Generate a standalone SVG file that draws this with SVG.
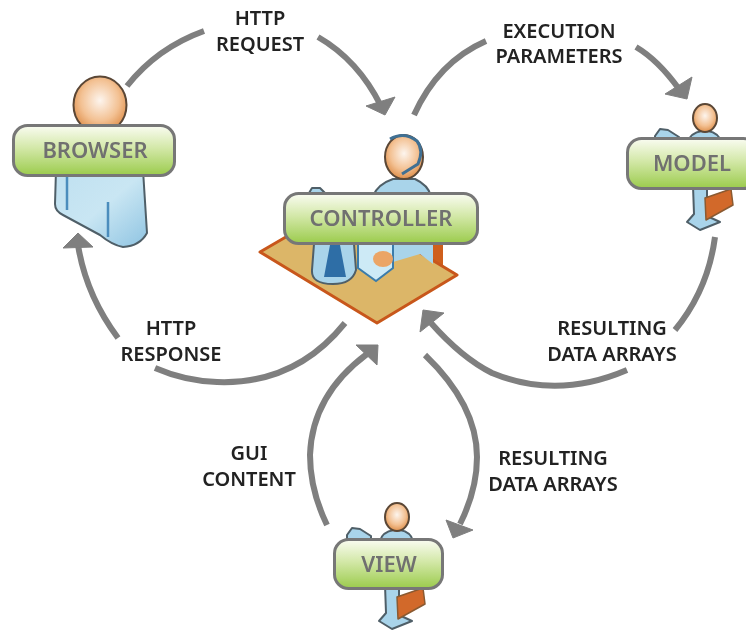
<svg xmlns="http://www.w3.org/2000/svg" width="746" height="630" viewBox="0 0 746 630">
<style>
.t{font-family:"Noto Sans","Open Sans","Liberation Sans",sans-serif;font-weight:600;font-size:20px;fill:#222;text-anchor:middle;filter:url(#s)}
.n{font-family:"Noto Sans","Open Sans","Liberation Sans",sans-serif;font-weight:600;font-size:22px;fill:#6f6f6f;text-anchor:middle;filter:url(#s)}
.a{fill:none;stroke:#7f7f7f;stroke-width:6}
.h{fill:#7f7f7f;stroke:#7f7f7f;stroke-width:1;stroke-linejoin:round}
.l{fill:url(#g);stroke:#777;stroke-width:3}
.b{fill:#a9d4ea;stroke:#4f5f68;stroke-width:2;stroke-linejoin:round}
.d{fill:none;stroke:#4b8dbd;stroke-width:2.5}
.f{fill:url(#hd);stroke:#5a4636;stroke-width:2}
.c{fill:#d2692c;stroke:#8a5a30;stroke-width:1.5;stroke-linejoin:round}
.soft{filter:url(#s)}
</style>
<defs>
<filter id="s" x="-5%" y="-5%" width="110%" height="110%"><feGaussianBlur stdDeviation="0.5"/></filter>
<linearGradient id="g" x1="0" y1="0" x2="0" y2="1">
<stop offset="0" stop-color="#fafcf2"/><stop offset="0.45" stop-color="#d3e8a8"/><stop offset="1" stop-color="#9bcb4c"/>
</linearGradient>
<radialGradient id="hd" cx="0.5" cy="0.42" r="0.6">
<stop offset="0" stop-color="#fdf5ee"/><stop offset="0.6" stop-color="#f3c193"/><stop offset="1" stop-color="#dd8b45"/>
</radialGradient>
<linearGradient id="bl" x1="0" y1="0" x2="1" y2="1">
<stop offset="0" stop-color="#bfe0f0"/><stop offset="0.5" stop-color="#c9e6f3"/><stop offset="1" stop-color="#8fc4e2"/>
</linearGradient>
<g id="worker">
<path class="b" d="M655 136 L660 129 L668 130 L679 137 L679 142 L655 142 Z"/>
<path class="b" d="M688 142 Q690 133 702 131 L708 131 Q719 133 721 142 Z"/>
<ellipse class="f" cx="705" cy="118" rx="12" ry="14"/>
<path class="b" d="M693 186 L707 186 L707 216 L720 222 L700 230 L687 222 L694 214 Z"/>
<path class="c" d="M705 198 L731 189 L733 205 L706 220 Z"/>
</g>
</defs>
<rect width="746" height="630" fill="#fff"/>
<g id="connectors" class="soft">
<path class="a" d="M127 86 Q157 48 204 31"/>
<path class="a" d="M318 37 Q358 60 381 106"/>
<polygon class="h" points="395,97 366,106 385,115"/>
<path class="a" d="M414 115 Q438 62 486 41"/>
<path class="a" d="M636 47 Q658 60 679 89"/>
<polygon class="h" points="692,77 665,94 687,99"/>
<path class="a" d="M715 237 Q708 290 675 330"/>
<path class="a" d="M627 370 Q557 400 492 373 Q462 358 431 323"/>
<polygon class="h" points="423,310 444,313 420,332"/>
<path class="a" d="M425 355 Q477 405 477 457 Q477 490 460 524"/>
<polygon class="h" points="446,520 473,530 453,538"/>
<path class="a" d="M327 525 Q310 490 310 455 Q312 395 367 354"/>
<polygon class="h" points="378,345 356,345 377,365"/>
<path class="a" d="M345 323 Q295 385 217 382 Q185 381 155 368"/>
<path class="a" d="M118 338 Q86 295 78 245"/>
<polygon class="h" points="78,233 63,248 93,247"/>
</g>
<g id="labels">
<text class="t" x="260" y="25">HTTP</text><text class="t" x="260" y="51">REQUEST</text>
<text class="t" x="559" y="38">EXECUTION</text><text class="t" x="559" y="63">PARAMETERS</text>
<text class="t" x="171" y="335">HTTP</text><text class="t" x="171" y="361">RESPONSE</text>
<text class="t" x="612" y="335">RESULTING</text><text class="t" x="612" y="361">DATA ARRAYS</text>
<text class="t" x="249" y="460">GUI</text><text class="t" x="249" y="486">CONTENT</text>
<text class="t" x="553" y="465">RESULTING</text><text class="t" x="553" y="491">DATA ARRAYS</text>
</g>
<g id="browser">
<g class="soft">
<ellipse class="f" cx="100" cy="105" rx="26.500" ry="28.500"/>
<path d="M56 170 L55 204 Q55 211 63 215 L100 235 Q112 245 123 247 Q140 246 147 233 L143 170 Z" fill="url(#bl)" stroke="#4f5f68" stroke-width="2" stroke-linejoin="round"/>
<path class="d" d="M67 177 L67 210"/><path class="d" d="M108 202 L108 237" stroke-width="1.500"/>
<rect class="l" x="13.500" y="125.500" width="161" height="50" rx="14"/>
</g>
<text class="n" x="95" y="158">BROWSER</text>
</g>
<g id="controller">
<g class="soft">
<path d="M433 240 L443 240 L443 266 L433 266 Z" fill="#cf5f1f"/>
<path d="M309 193 L312 188 L320 188 L325 193 Z" class="b"/>
<path class="b" d="M373 196 Q378 184 393 179 L415 179 Q428 185 431 196 Z"/>
<ellipse class="f" cx="404" cy="157" rx="19" ry="22"/>
<path d="M390 139 Q404 131 417 141 Q424 150 418 164 L402 174" fill="none" stroke="#3f6f93" stroke-width="3"/>
<polygon points="260,252 341,205 457,275 377,323" fill="#dcb668" stroke="#c8571a" stroke-width="3" stroke-linejoin="round"/>
<path d="M393 244 L433 244 L433 264 L420 254 L393 262 Z" fill="#a9d4ea"/>
<path d="M314 244 L354 244 L356 270 Q352 284 333 284 Q311 284 312 270 Z" class="b"/>
<path d="M330 245 L340 245 L346 277 L324 277 Z" fill="#2e6ea6"/>
<path d="M358 244 L393 244 L393 268 L376 281 L358 268 Z" fill="#cdeaf6" stroke="#3b7cab" stroke-width="2"/>
<ellipse cx="383" cy="259" rx="10" ry="8" fill="#eba566"/>
<rect class="l" x="284.500" y="193.500" width="193" height="50" rx="14"/>
</g>
<text class="n" x="381" y="226">CONTROLLER</text>
</g>
<g id="model">
<g class="soft">
<use href="#worker"/>
<rect class="l" x="627.500" y="138.500" width="130" height="50" rx="14"/>
</g>
<text class="n" x="692" y="171">MODEL</text>
</g>
<g id="view">
<g class="soft">
<use href="#worker" transform="translate(-308 399)"/>
<rect class="l" x="334.500" y="539.500" width="108" height="49" rx="14"/>
</g>
<text class="n" x="389" y="572">VIEW</text>
</g>
</svg>
